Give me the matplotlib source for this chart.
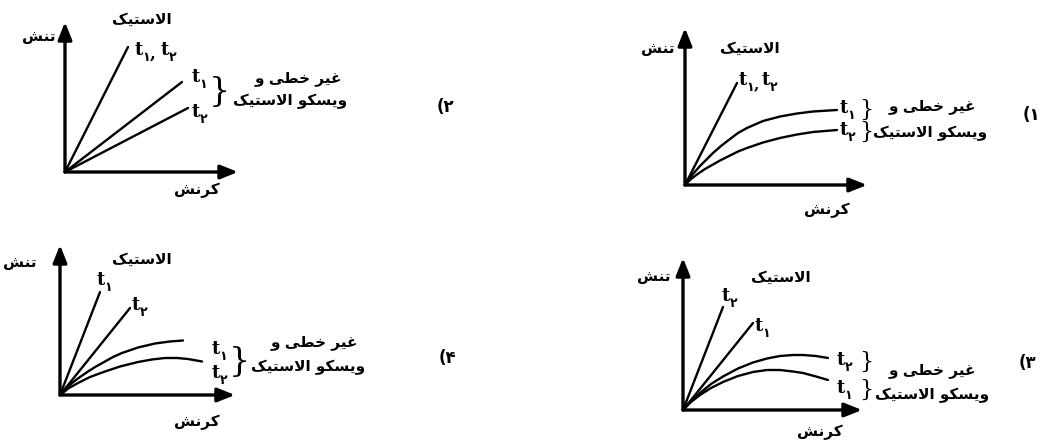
import matplotlib
matplotlib.use("Agg")
import matplotlib.pyplot as plt
from matplotlib import font_manager, ft2font

# ========== داده‌ها (واحد: کرنش و تنش دلخواه) ==========
# گزینه ۱
P1_EL_STRAIN = [0, 5.2]
P1_EL_STRESS = [0, 10.2]
P1_T1_STRAIN = [0, 0.8, 1.5, 2.2, 2.8, 3.6, 4.5, 5.3, 6.2, 7.8, 9.5, 11.2, 12.8, 15.2]
P1_T1_STRESS = [0, 1.1, 1.9, 2.6, 3.2, 3.9, 4.6, 5.2, 5.7, 6.4, 6.85, 7.15, 7.35, 7.5]
P1_T2_STRAIN = [0, 0.6, 1.2, 2.0, 2.8, 3.6, 4.5, 5.3, 6.2, 7.8, 9.5, 11.2, 12.8, 15.2]
P1_T2_STRESS = [0, 0.6, 1.05, 1.6, 2.05, 2.5, 2.95, 3.35, 3.7, 4.25, 4.7, 5.05, 5.3, 5.5]

# گزینه ۲
P2_EL_STRAIN = [0, 6.3]
P2_EL_STRESS = [0, 12.5]
P2_T1_STRAIN = [0, 11.7]
P2_T1_STRESS = [0, 9.0]
P2_T2_STRAIN = [0, 12.3]
P2_T2_STRESS = [0, 6.4]

# گزینه ۳
P3_EL1_STRAIN = [0, 7.0]
P3_EL1_STRESS = [0, 8.7]
P3_EL2_STRAIN = [0, 4.0]
P3_EL2_STRESS = [0, 10.3]
P3_T2_STRAIN = [0, 0.8, 1.7, 2.8, 4.0, 5.5, 7.0, 8.4, 9.7, 11.0, 12.0, 13.3, 14.5]
P3_T2_STRESS = [0, 0.9, 1.7, 2.6, 3.35, 4.15, 4.75, 5.15, 5.4, 5.5, 5.5, 5.4, 5.2]
P3_T1_STRAIN = [0, 0.8, 1.7, 2.8, 4.0, 5.5, 7.0, 8.4, 9.7, 11.0, 12.0, 13.3, 14.5]
P3_T1_STRESS = [0, 0.8, 1.5, 2.2, 2.8, 3.4, 3.8, 4.0, 4.0, 3.85, 3.7, 3.35, 3.0]

# گزینه ۴
P4_EL1_STRAIN = [0, 4.0]
P4_EL1_STRESS = [0, 10.3]
P4_EL2_STRAIN = [0, 7.0]
P4_EL2_STRESS = [0, 8.7]
P4_T1_STRAIN = [0, 0.6, 1.2, 2.0, 2.8, 3.6, 4.5, 5.3, 6.2, 7.8, 9.5, 11.0, 12.3]
P4_T1_STRESS = [0, 0.65, 1.2, 1.8, 2.35, 2.85, 3.35, 3.8, 4.2, 4.75, 5.15, 5.35, 5.45]
P4_T2_STRAIN = [0, 0.9, 1.8, 3.0, 4.5, 6.0, 7.8, 9.2, 10.5, 11.7, 12.8, 14.2]
P4_T2_STRESS = [0, 0.7, 1.2, 1.8, 2.35, 2.85, 3.3, 3.55, 3.7, 3.7, 3.6, 3.35]

# ========== متن‌ها ==========
STRESS = "تنش"
STRAIN = "کرنش"
ELASTIC = "الاستیک"
NONLIN = "غیر خطی و"
VISCO = "ویسکو الاستیک"
OPTIONS = ["۱)", "۲)", "۳)", "۴)"]
ONE, TWO = "۱", "۲"

# ========== شکل‌دهی ساده حروف فارسی ==========
FA_FONT = "DejaVu Sans"
_path = font_manager.findfont(font_manager.FontProperties(family=FA_FONT, weight="bold"))
_cmap = ft2font.FT2Font(_path).get_charmap()

FORMS = {
    "ا": ("\uFE8D", "\uFE8E", None, None),
    "ل": ("\uFEDD", "\uFEDE", "\uFEDF", "\uFEE0"),
    "س": ("\uFEB1", "\uFEB2", "\uFEB3", "\uFEB4"),
    "ت": ("\uFE95", "\uFE96", "\uFE97", "\uFE98"),
    "ی": ("\uFEEF", "\uFEF0", "\uFEF3", "\uFEF4"),
    "ک": ("\uFB8E", "\uFB8F", "\uFB90", "\uFB91"),
    "ر": ("\uFEAD", "\uFEAE", None, None),
    "ن": ("\uFEE5", "\uFEE6", "\uFEE7", "\uFEE8"),
    "ش": ("\uFEB5", "\uFEB6", "\uFEB7", "\uFEB8"),
    "غ": ("\uFECD", "\uFECE", "\uFECF", "\uFED0"),
    "خ": ("\uFEA5", "\uFEA6", "\uFEA7", "\uFEA8"),
    "ط": ("\uFEC1", "\uFEC2", "\uFEC3", "\uFEC4"),
    "و": ("\uFEED", "\uFEEE", None, None),
}
if 0xFB8E not in _cmap:
    FORMS["ک"] = ("\uFED9", "\uFEDA", "\uFEDB", "\uFEDC")


def joins_fwd(c):
    return c in FORMS and FORMS[c][2] is not None


def shape(text):
    res = []
    i, n = 0, len(text)
    while i < n:
        c = text[i]
        if c not in FORMS:
            res.append(c)
            i += 1
            continue
        link_prev = i > 0 and joins_fwd(text[i - 1])
        if c == "ل" and i + 1 < n and text[i + 1] == "ا":
            res.append("\uFEFC" if link_prev else "\uFEFB")
            i += 2
            continue
        link_next = joins_fwd(c) and i + 1 < n and text[i + 1] in FORMS
        iso, fin, ini, med = FORMS[c]
        if link_prev and link_next:
            g = med
        elif link_next:
            g = ini
        elif link_prev:
            g = fin
        else:
            g = iso
        res.append(g)
        i += 1
    return "".join(res)


def rtl(text):
    return shape(text)[::-1].translate(str.maketrans("()", ")("))


# ========== توابع رسم ==========
def fa(ax, x, y, s, size=11, ha="center"):
    ax.text(x, y, rtl(s), family=FA_FONT, weight="bold", size=size,
            ha=ha, va="center")


def t_label(ax, x, y, digit):
    ax.text(x, y, "t", family="DejaVu Serif", weight="bold", size=13,
            ha="left", va="center")
    ax.annotate(digit, (x, y), xytext=(5.5, -5.5), textcoords="offset points",
                family=FA_FONT, weight="bold", size=9, ha="left", va="center")


def brace(ax, x, y, size):
    ax.text(x, y, "}", family="DejaVu Serif", size=size, ha="center",
            va="center")


def make_panel(fig, ox, oy, lx, ly):
    # ox, oy: مبدا به پیکسل ؛ lx, ly: طول محورها (هر واحد = 10 پیکسل)
    ax = fig.add_axes([ox / 1048, (440 - oy) / 440, lx * 10 / 1048, ly * 10 / 440])
    ax.set_xlim(0, lx)
    ax.set_ylim(0, ly)
    ax.axis("off")
    arrow = dict(arrowstyle="-|>,head_length=0.75,head_width=0.3", lw=2.4,
                 color="k", mutation_scale=14, shrinkA=0, shrinkB=0)
    ax.annotate("", xy=(lx, 0), xytext=(0, 0), arrowprops=arrow, annotation_clip=False)
    ax.annotate("", xy=(0, ly), xytext=(0, 0), arrowprops=arrow, annotation_clip=False)
    return ax


def curve(ax, xs, ys):
    ax.plot(xs, ys, color="k", lw=1.7, solid_capstyle="round",
            solid_joinstyle="round", clip_on=False)


fig = plt.figure(figsize=(10.48, 4.40), dpi=100)

# ----- گزینه ۲ (بالا چپ) -----
ax = make_panel(fig, 65, 172, 17.3, 15.0)
curve(ax, P2_EL_STRAIN, P2_EL_STRESS)
curve(ax, P2_T1_STRAIN, P2_T1_STRESS)
curve(ax, P2_T2_STRAIN, P2_T2_STRESS)
fa(ax, -0.9, 13.5, STRESS, ha="right")
fa(ax, 13.2, -1.8, STRAIN)
fa(ax, 7.7, 15.3, ELASTIC)
t_label(ax, 7.0, 12.2, ONE)
ax.text(8.8, 11.8, ",", family="DejaVu Serif", weight="bold", size=12, ha="center", va="center")
t_label(ax, 9.6, 12.2, TWO)
t_label(ax, 12.7, 9.5, ONE)
t_label(ax, 12.7, 6.0, TWO)
brace(ax, 15.4, 8.0, 24)
fa(ax, 23.3, 9.3, NONLIN)
fa(ax, 22.5, 7.1, VISCO)
fa(ax, 38.0, 6.5, OPTIONS[1], size=12)

# ----- گزینه ۱ (بالا راست) -----
ax = make_panel(fig, 685, 185, 18.2, 15.7)
curve(ax, P1_EL_STRAIN, P1_EL_STRESS)
curve(ax, P1_T1_STRAIN, P1_T1_STRESS)
curve(ax, P1_T2_STRAIN, P1_T2_STRESS)
fa(ax, -1.0, 13.7, STRESS, ha="right")
fa(ax, 14.2, -2.5, STRAIN)
fa(ax, 6.5, 13.7, ELASTIC)
t_label(ax, 5.4, 10.5, ONE)
ax.text(7.1, 10.1, ",", family="DejaVu Serif", weight="bold", size=11, ha="center", va="center")
t_label(ax, 7.7, 10.5, TWO)
t_label(ax, 15.5, 7.7, ONE)
t_label(ax, 15.5, 5.5, TWO)
brace(ax, 18.1, 7.5, 16)
brace(ax, 18.1, 5.3, 16)
fa(ax, 24.7, 7.8, NONLIN)
fa(ax, 24.5, 5.2, VISCO)
fa(ax, 34.6, 7.0, OPTIONS[0], size=12)

# ----- گزینه ۴ (پایین چپ) -----
ax = make_panel(fig, 60, 395, 17.5, 15.0)
curve(ax, P4_EL1_STRAIN, P4_EL1_STRESS)
curve(ax, P4_EL2_STRAIN, P4_EL2_STRESS)
curve(ax, P4_T1_STRAIN, P4_T1_STRESS)
curve(ax, P4_T2_STRAIN, P4_T2_STRESS)
fa(ax, -2.3, 13.2, STRESS, ha="right")
fa(ax, 13.7, -2.7, STRAIN)
fa(ax, 8.2, 13.6, ELASTIC)
t_label(ax, 3.7, 11.5, ONE)
t_label(ax, 7.2, 9.0, TWO)
t_label(ax, 15.2, 4.6, ONE)
t_label(ax, 15.2, 2.2, TWO)
brace(ax, 17.9, 3.3, 24)
fa(ax, 25.4, 5.2, NONLIN)
fa(ax, 24.8, 2.8, VISCO)
fa(ax, 38.7, 3.7, OPTIONS[3], size=12)

# ----- گزینه ۳ (پایین راست) -----
ax = make_panel(fig, 683, 410, 17.9, 15.2)
curve(ax, P3_EL1_STRAIN, P3_EL1_STRESS)
curve(ax, P3_EL2_STRAIN, P3_EL2_STRESS)
curve(ax, P3_T2_STRAIN, P3_T2_STRESS)
curve(ax, P3_T1_STRAIN, P3_T1_STRESS)
fa(ax, -1.2, 13.3, STRESS, ha="right")
fa(ax, 13.7, -2.2, STRAIN)
fa(ax, 9.8, 13.3, ELASTIC)
t_label(ax, 3.9, 11.4, TWO)
t_label(ax, 7.2, 8.4, ONE)
t_label(ax, 15.4, 5.0, TWO)
t_label(ax, 15.4, 2.2, ONE)
brace(ax, 18.3, 4.8, 16)
brace(ax, 18.3, 2.0, 16)
fa(ax, 24.9, 4.0, NONLIN)
fa(ax, 24.9, 1.5, VISCO)
fa(ax, 34.4, 4.7, OPTIONS[2], size=12)

fig.savefig("out.png", dpi=100)
